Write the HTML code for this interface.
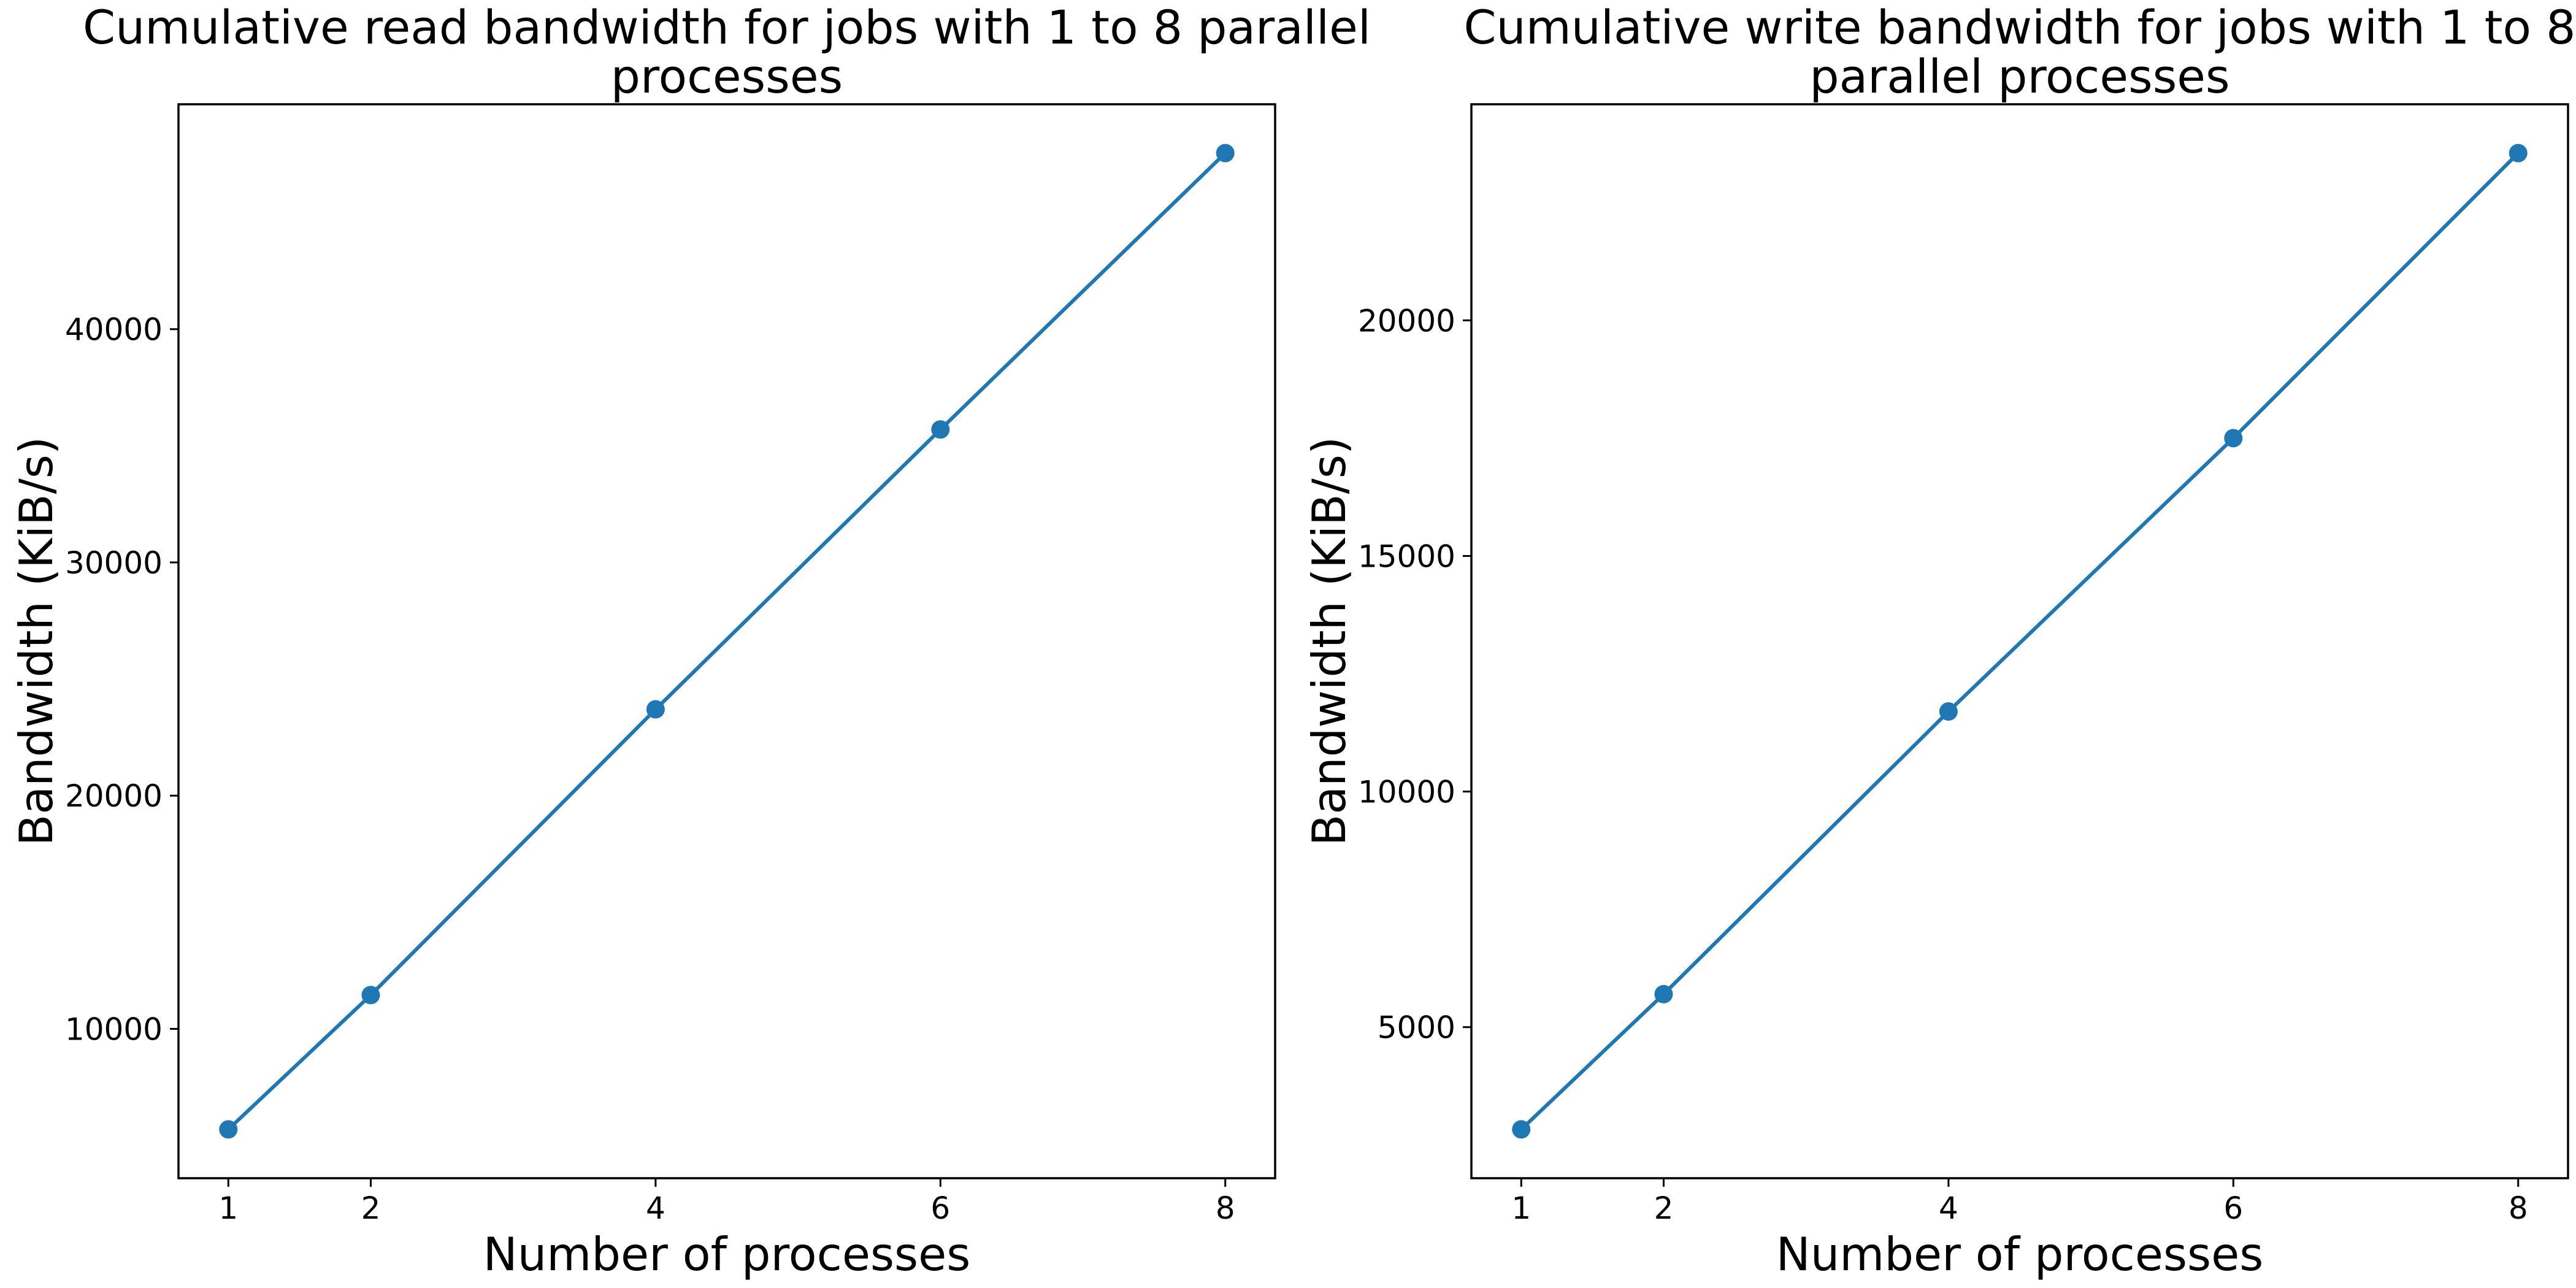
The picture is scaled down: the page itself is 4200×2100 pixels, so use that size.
<!DOCTYPE html>
<html><head><meta charset="utf-8"><style>
body{margin:0;background:#fff}
svg{display:block;font-family:"DejaVu Sans","Liberation Sans",sans-serif}
</style></head><body>
<svg id="chart" width="4200" height="2100" viewBox="0 0 4200 2100" xmlns="http://www.w3.org/2000/svg"></svg>
<script>
const procs = [1, 2, 4, 6, 8];
const readBw = [5690, 11450, 23700, 35700, 47550];
const writeBw = [2830, 5700, 11700, 17500, 23550];
const xTicks = [1, 2, 4, 6, 8];
const readTicks = [10000, 20000, 30000, 40000];
const writeTicks = [5000, 10000, 15000, 20000];
const readTitle = ["Cumulative read bandwidth for jobs with 1 to 8 parallel", "processes"];
const writeTitle = ["Cumulative write bandwidth for jobs with 1 to 8", "parallel processes"];

const NS = "http://www.w3.org/2000/svg";
const svg = document.getElementById("chart");
function mk(tag, attrs, parent) {
  const e = document.createElementNS(NS, tag);
  for (const k in attrs) e.setAttribute(k, attrs[k]);
  (parent || svg).appendChild(e);
  return e;
}
function panel(name, left, vals, ticks, title) {
  const top = 170, bottom = 1921, right = left + 1788;
  const g = mk("g", {});
  
  
  const xmin = 0.65, xmax = 8.35;
  const dmin = Math.min(...vals), dmax = Math.max(...vals), m = (dmax - dmin) * 0.05;
  const ymin = dmin - m, ymax = dmax + m;
  const X = v => left + (v - xmin) / (xmax - xmin) * (right - left);
  const Y = v => bottom - (v - ymin) / (ymax - ymin) * (bottom - top);
  xTicks.forEach(t => {
    const l = mk("line", {x1: X(t), x2: X(t), y1: bottom, y2: bottom + 14, stroke: "#000", "stroke-width": 3}, g);
    
    
    const tx = mk("text", {x: X(t), y: 1987, "font-size": 50, "text-anchor": "middle"}, g);
    tx.textContent = t;
    
    
  });
  ticks.forEach(t => {
    const l = mk("line", {x1: left - 14, x2: left, y1: Y(t), y2: Y(t), stroke: "#000", "stroke-width": 3}, g);
    
    
    const tx = mk("text", {x: left - 26, y: Y(t) + 18, "font-size": 50, "text-anchor": "end"}, g);
    tx.textContent = t;
    
    
  });
  const pts = procs.map((p, i) => X(p) + "," + Y(vals[i])).join(" ");
  const pl = mk("polyline", {points: pts, fill: "none", stroke: "#1f77b4", "stroke-width": 6, "stroke-linejoin": "round"}, g);
  
  
  procs.forEach((p, i) => {
    const c = mk("circle", {cx: X(p), cy: Y(vals[i]), r: 15, fill: "#1f77b4"}, g);
    
    
  });
  const frame = mk("rect", {x: left, y: top, width: right - left, height: bottom - top, fill: "none", stroke: "#000", "stroke-width": 3.5}, g);
  
  
  const cx = (left + right) / 2;
  const xl = mk("text", {x: cx, y: 2071, "font-size": 75, "text-anchor": "middle"}, g);
  xl.textContent = "Number of processes";
  
  
  const yl = mk("text", {x: 0, y: 0, "font-size": 75, "text-anchor": "middle", transform: `translate(${left - 206},${(top + bottom) / 2}) rotate(-90)`}, g);
  yl.textContent = "Bandwidth (KiB/s)";
  
  
  title.forEach((line, i) => {
    const t = mk("text", {x: cx, y: 71 + i * 80, "font-size": 76, "text-anchor": "middle"}, g);
    t.textContent = line;
    
    
  });
}
panel("read", 291, readBw, readTicks, readTitle);
panel("write", 2399, writeBw, writeTicks, writeTitle);
</script>
</body></html>
